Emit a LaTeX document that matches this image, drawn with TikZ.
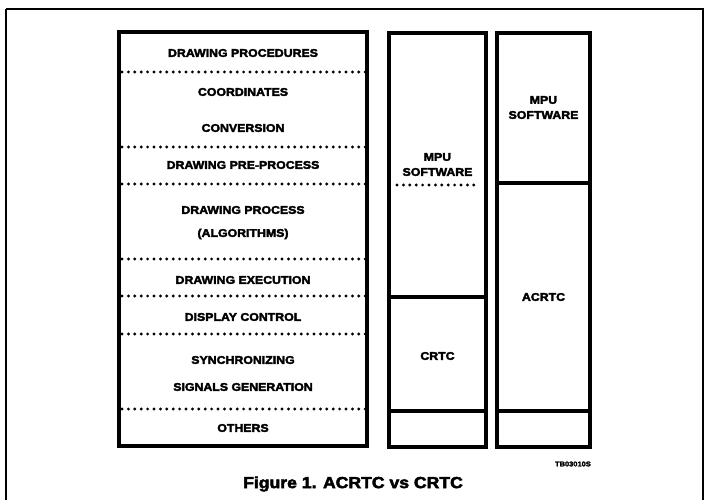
\documentclass[tikz,border=0pt]{standalone}
\usepackage{fontspec}
\setmainfont{Liberation Sans}
\newfontfamily\heavy[FakeStretch=1.1,FakeBold=3]{Liberation Sans Bold}
\begin{document}
\begin{tikzpicture}[x=1pt,y=-1pt,
  lbl/.style={font=\heavy\fontsize{11.2}{12}\selectfont, inner sep=0pt, anchor=center},
  captext/.style={font=\heavy\fontsize{16}{18}\selectfont, inner sep=0pt},
  boxline/.style={line width=3.4pt, line join=miter},
  sep/.style={line width=3.2pt, line cap=round, dash pattern=on 0pt off 6.4pt},
  frame/.style={line width=1.3pt}]
\useasboundingbox (0,0) rectangle (705,500);
% outer frame
\draw[frame] (6,9) -- (703,9) -- (703,505);
\draw[frame] (6,9) -- (6,505);
% left column
\draw[boxline] (119,32) rectangle (367,446);
\foreach \yy in {72,147,184,259,296,334,409}
  \draw[sep] (122,\yy) -- (366,\yy);
\node[lbl] (dp) at (243,53) {DRAWING PROCEDURES};
\node[lbl] (co) at (243,92) {COORDINATES};
\node[lbl] (cv) at (243,128) {CONVERSION};
\node[lbl] (pp) at (243,165) {DRAWING PRE-PROCESS};
\node[lbl] (pr) at (243,210) {DRAWING PROCESS};
\node[lbl] (al) at (243,234) {(ALGORITHMS)};
\node[lbl] (ex) at (243,280) {DRAWING EXECUTION};
\node[lbl] (dc) at (243,317) {DISPLAY CONTROL};
\node[lbl] (sy) at (243,360) {SYNCHRONIZING};
\node[lbl] (sg) at (243,387) {SIGNALS GENERATION};
\node[lbl] (ot) at (243,428) {OTHERS};
% middle column
\draw[boxline] (389,33) rectangle (486,447);
\draw[boxline] (389,297) -- (486,297);
\draw[boxline] (389,411) -- (486,411);
\draw[sep] (397,185) -- (479,185);
\node[lbl] (m1) at (437.5,157) {MPU};
\node[lbl] (m2) at (437.5,172) {SOFTWARE};
\node[lbl] (cr) at (437.5,356) {CRTC};
% right column
\draw[boxline] (497,33) rectangle (590,447);
\draw[boxline] (497,183) -- (590,183);
\draw[boxline] (497,411) -- (590,411);
\node[lbl] (r1) at (543.5,100) {MPU};
\node[lbl] (r2) at (543.5,115) {SOFTWARE};
\node[lbl] (ac) at (543.5,297) {ACRTC};
% reference code and caption
\node[font=\heavy\fontsize{6.8}{8}\selectfont, inner sep=0pt, anchor=east] (tb) at (591,464) {TB03010S};
\node[captext] (fig) at (353,484) {Figure 1. ACRTC vs CRTC};
\end{tikzpicture}
\end{document}
